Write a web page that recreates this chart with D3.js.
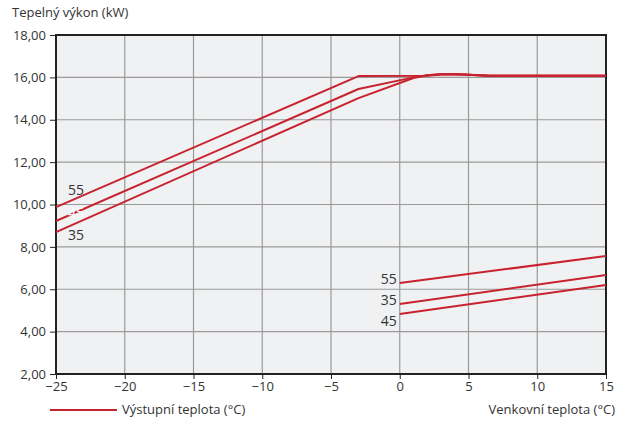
<!DOCTYPE html>
<html>
<head>
<meta charset="utf-8">
<script src="https://cdn.jsdelivr.net/npm/d3@7"></script>
<style>
  body { margin: 0; background: #fff; }
  text { font-family: "Open Sans", "Noto Sans", sans-serif; }
</style>
</head>
<body>
<div id="chart"></div>
<script>
// upper curves (outside temp, kW)
const hi55 = [[-25, 9.88], [-3, 16.06], [2, 16.08], [3, 16.13], [3.7, 16.15], [4.6, 16.13], [6.5, 16.08], [15, 16.08]];
const hi45 = [[-25, 9.22], [-3, 15.45], [1, 16.0], [2, 16.1], [3, 16.15], [3.7, 16.16], [4.6, 16.14], [6.5, 16.08], [15, 16.08]];
const hi35 = [[-25, 8.70], [-3, 15.02], [1, 15.97], [2, 16.1], [3, 16.15], [3.7, 16.16], [4.6, 16.14], [6.5, 16.08], [15, 16.08]];
// lower lines
const lo55 = [[0, 6.29], [15, 7.57]];
const lo35 = [[0, 5.30], [15, 6.67]];
const lo45 = [[0, 4.83], [15, 6.20]];

const xTicks = [-25, -20, -15, -10, -5, 0, 5, 10, 15];
const yTicks = [2, 4, 6, 8, 10, 12, 14, 16, 18];

const width = 627, height = 423,
      margin = {top: 35, right: 21, bottom: 49, left: 56};

const svg = d3.select("#chart").append("svg")
    .attr("width", width).attr("height", height);

const x = d3.scaleLinear().domain([-25, 15]).range([margin.left, width - margin.right]);
const y = d3.scaleLinear().domain([2, 18]).range([height - margin.bottom, margin.top]);

const red = "#c8222f";
const ink = "#333";

svg.append("rect")
    .attr("x", x(-25)).attr("y", y(18))
    .attr("width", x(15) - x(-25)).attr("height", y(2) - y(18))
    .attr("fill", "#f0f1f3");

// grid
svg.append("g").selectAll("line").data(xTicks.slice(1, -1)).join("line")
    .attr("x1", d => x(d)).attr("x2", d => x(d))
    .attr("y1", y(18)).attr("y2", y(2))
    .attr("stroke", "#9a9a9a").attr("stroke-width", 1.2);
svg.append("g").selectAll("line").data(yTicks.slice(1, -1)).join("line")
    .attr("x1", x(-25)).attr("x2", x(15))
    .attr("y1", d => y(d)).attr("y2", d => y(d))
    .attr("stroke", "#9a9a9a").attr("stroke-width", 1.2);

// frame
svg.append("rect")
    .attr("x", x(-25)).attr("y", y(18))
    .attr("width", x(15) - x(-25)).attr("height", y(2) - y(18))
    .attr("fill", "none").attr("stroke", "#222").attr("stroke-width", 2);

// axes
const yAxis = svg.append("g")
    .attr("transform", "translate(" + x(-25) + ",0)")
    .call(d3.axisLeft(y).tickValues(yTicks).tickSize(6).tickPadding(4)
        .tickFormat(d => d3.format(".2f")(d).replace(".", ",")));
const xAxis = svg.append("g")
    .attr("transform", "translate(0," + y(2) + ")")
    .call(d3.axisBottom(x).tickValues(xTicks).tickSize(5).tickPadding(3));
[xAxis, yAxis].forEach(a => {
  a.select(".domain").remove();
  a.selectAll(".tick line").attr("stroke", "#222");
  a.selectAll(".tick text").style("font-size", "13px").style("fill", ink);
});

// curves
const line = d3.line().x(d => x(d[0])).y(d => y(d[1]));
[hi55, hi45, hi35, lo55, lo35, lo45].forEach(s => {
  svg.append("path").datum(s).attr("d", line)
      .attr("fill", "none").attr("stroke", red).attr("stroke-width", 2)
      .attr("stroke-linejoin", "round");
});

// series labels
const lbl = (tx, ty, t, anchor, col) => svg.append("text")
    .attr("x", tx).attr("y", ty).attr("text-anchor", anchor)
    .style("font-size", "14px").style("fill", col || ink).text(t);
lbl(x(-25) + 12, y(hi55[0][1]) - 12, "55", "start");
lbl(x(-25) + 12, y(hi45[0][1]) - 3, "45", "start", "#fff");
lbl(x(-25) + 12, y(hi35[0][1]) + 8, "35", "start");
lbl(x(0) - 3, y(lo55[0][1]) + 1, "55", "end");
lbl(x(0) - 3, y(lo35[0][1]) + 1, "35", "end");
lbl(x(0) - 3, y(lo45[0][1]) + 12, "45", "end");

// titles
svg.append("text").attr("x", 12).attr("y", 17)
    .style("font-size", "13px").style("fill", ink).text("Tepelný výkon (kW)");
svg.append("line").attr("x1", 50).attr("x2", 117).attr("y1", 410).attr("y2", 410)
    .attr("stroke", red).attr("stroke-width", 2);
svg.append("text").attr("x", 122).attr("y", 414)
    .style("font-size", "13px").style("fill", ink).text("Výstupní teplota (°C)");
svg.append("text").attr("x", 615).attr("y", 414).attr("text-anchor", "end")
    .style("font-size", "13px").style("fill", ink).text("Venkovní teplota (°C)");
</script>
</body>
</html>
